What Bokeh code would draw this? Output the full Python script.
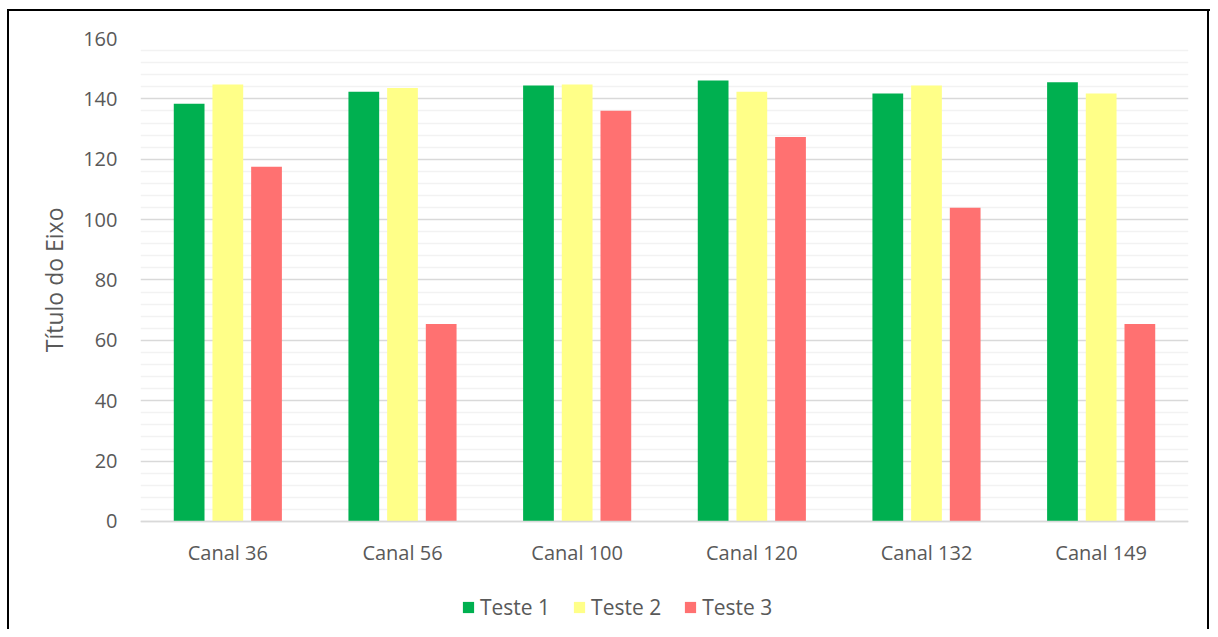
from bokeh.plotting import figure
from bokeh.models import (ColumnDataSource, FactorRange, FixedTicker,
                          Legend, LegendItem, Title)
from bokeh.transform import dodge
from bokeh.embed import file_html
from bokeh.resources import INLINE

categories = ["Canal 36", "Canal 56", "Canal 100", "Canal 120", "Canal 132", "Canal 149"]
teste1 = [138.4, 142.4, 144.4, 146.1, 141.8, 145.5]
teste2 = [144.8, 143.6, 144.8, 142.4, 144.4, 141.8]
teste3 = [117.5, 65.4, 136.1, 127.4, 103.9, 65.4]
series_names = ["Teste 1", "Teste 2", "Teste 3"]
y_ticks = [0, 20, 40, 60, 80, 100, 120, 140, 160]
y_minor = [v for v in range(4, 160, 4) if v % 20]
colors = ["#00B050", "#FFFF88", "#FF7171"]

FONT = "Open Sans"
TXT = "#595959"

src = ColumnDataSource(dict(cat=categories, t1=teste1, t2=teste2, t3=teste3))

# the frame reaches the bottom of the canvas so the legend can sit inside it;
# the value axis stops at 0 (ticks/grid only 0..160)
p = figure(x_range=FactorRange(*categories, range_padding=0), y_range=(-35.78, 160),
           width=1210, height=629, output_backend="svg", toolbar_location=None,
           min_border_left=140, min_border_right=22, min_border_top=38,
           min_border_bottom=0)
p.outline_line_color = None
p.border_fill_color = None
p.styles = {
    "background-color": "white",
    "background-image": "linear-gradient(#000,#000), linear-gradient(#000,#000), linear-gradient(#000,#000)",
    "background-size": "2px 700px, 1210px 2px, 2px 700px",
    "background-position": "7px 9px, 7px 9px, 1207px 9px",
    "background-repeat": "no-repeat",
}

offs = [-0.2215, 0.0, 0.2215]
rs = []
for key, off, col in zip(["t1", "t2", "t3"], offs, colors):
    r = p.vbar(x=dodge("cat", off, range=p.x_range), top=key, bottom=0, width=0.176,
               source=src, fill_color=col, line_color=None)
    rs.append(r)

p.yaxis.ticker = FixedTicker(ticks=y_ticks, minor_ticks=y_minor)
p.ygrid.grid_line_color = "#D9D9D9"
p.ygrid.grid_line_width = 1.3
p.ygrid.minor_grid_line_color = "#F2F2F2"
p.ygrid.minor_grid_line_width = 1.3
p.xgrid.grid_line_color = None

p.yaxis.axis_line_color = None
p.yaxis.major_tick_line_color = None
p.yaxis.minor_tick_line_color = None
p.yaxis.major_tick_out = 0
p.yaxis.minor_tick_out = 0
p.yaxis.major_label_standoff = 23
p.yaxis.major_label_text_font = FONT
p.yaxis.major_label_text_font_size = "20px"
p.yaxis.major_label_text_color = TXT

p.xaxis.fixed_location = 0
p.xaxis.axis_line_color = "#D9D9D9"
p.xaxis.axis_line_width = 1.3
p.xaxis.major_tick_line_color = None
p.xaxis.minor_tick_line_color = None
p.xaxis.major_tick_out = 0
p.xaxis.major_label_standoff = 18
p.xaxis.major_label_text_font = FONT
p.xaxis.major_label_text_font_size = "20px"
p.xaxis.major_label_text_color = TXT

ytitle = Title(text="Título do Eixo", align="right", offset=169, standoff=19,
               vertical_align="middle",
               text_font=FONT, text_font_size="23px", text_font_style="normal",
               text_color=TXT)
p.add_layout(ytitle, "left")

legend = Legend(items=[LegendItem(label=n, renderers=[r]) for n, r in zip(series_names, rs)],
                orientation="horizontal", location=(321, 8),
                glyph_width=14, glyph_height=14, label_standoff=5, spacing=22,
                padding=0, margin=0, border_line_color=None,
                background_fill_alpha=0,
                label_text_font=FONT, label_text_font_size="21px",
                label_text_color=TXT)
p.add_layout(legend, "center")

open("out.html", "w").write(file_html(p, INLINE))
